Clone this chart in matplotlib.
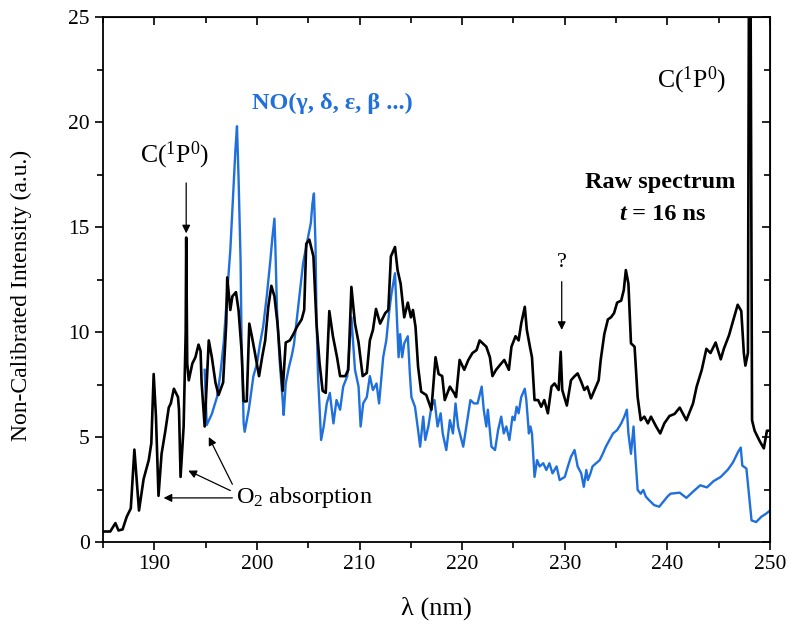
import matplotlib
matplotlib.use('Agg')
import matplotlib.pyplot as plt
from matplotlib.ticker import MultipleLocator

# Times-like serif font
plt.rcParams['font.family'] = ['Liberation Serif', 'DejaVu Serif']
plt.rcParams['mathtext.fontset'] = 'custom'
plt.rcParams['mathtext.rm'] = 'Liberation Serif'
plt.rcParams['mathtext.it'] = 'Liberation Serif:italic'
plt.rcParams['mathtext.bf'] = 'Liberation Serif:bold'

# raw spectrum (black)
wl_raw = [185.0, 185.7, 186.2, 186.5, 186.9, 187.3, 187.7, 188.05, 188.5, 188.95,
          189.45, 189.7, 189.93, 190.15, 190.4, 190.7, 191.07, 191.4, 191.6, 191.9,
          192.3, 192.4, 192.55, 192.85, 193.05, 193.1, 193.2, 193.35, 193.7, 194.0,
          194.3, 194.5, 194.6, 194.9, 195.3, 195.6, 195.95, 196.25, 196.7, 197.0,
          197.1, 197.4, 197.6, 197.95, 198.2, 198.5, 198.7, 199.0, 199.25, 199.5,
          199.8, 200.2, 200.5, 200.8, 201.1, 201.4, 201.7, 202.0, 202.5, 202.8,
          203.2, 203.55, 203.9, 204.35, 204.6, 204.8, 205.1, 205.5, 205.8, 206.1,
          206.4, 206.7, 207.05, 207.4, 207.8, 208.1, 208.6, 208.9, 209.2, 209.55,
          209.9, 210.3, 210.7, 211.0, 211.3, 211.6, 212.0, 212.5, 212.8, 213.05,
          213.45, 213.7, 214.0, 214.35, 214.7, 215.0, 215.2, 215.45, 215.7, 216.0,
          216.5, 217.0, 217.4, 217.7, 218.05, 218.3, 218.8, 219.2, 219.4, 219.75,
          220.2, 220.6, 221.0, 221.4, 221.7, 222.0, 222.35, 222.7, 222.95, 223.3,
          223.8, 224.1, 224.55, 224.8, 225.2, 225.5, 225.75, 226.1, 226.3, 226.6,
          226.8, 227.05, 227.4, 227.7, 228.0, 228.35, 228.7, 229.0, 229.4, 229.6,
          229.75, 230.2, 230.6, 230.9, 231.25, 231.6, 231.9, 232.2, 232.55, 232.9,
          233.3, 233.5, 233.85, 234.2, 234.5, 234.8, 235.1, 235.5, 235.75, 235.95,
          236.2, 236.45, 236.8, 237.1, 237.4, 237.75, 238.1, 238.4, 238.9, 239.3,
          239.7, 240.2, 240.7, 241.2, 241.85, 242.5, 242.85, 243.35, 243.8, 244.2,
          244.7, 245.2, 245.5, 246.0, 246.5, 246.85, 247.2, 247.45, 247.6, 247.85,
          247.95, 248.1, 248.25, 248.5, 249.0, 249.4, 249.7, 250.0]
int_raw = [0.5, 0.5, 0.9, 0.55, 0.6, 1.2, 1.6, 4.4, 1.5, 3.0,
           3.9, 4.7, 8.0, 6.0, 2.2, 4.2, 5.3, 6.4, 6.6, 7.3,
           6.9, 6.3, 3.1, 5.5, 10.0, 14.5, 8.5, 7.7, 8.5, 8.8,
           9.4, 9.1, 7.6, 5.5, 9.6, 8.8, 7.6, 7.0, 7.6, 10.4,
           12.6, 11.05, 11.7, 11.9, 11.05, 9.1, 6.7, 6.7, 10.4, 9.8,
           9.0, 7.9, 8.8, 9.6, 11.2, 12.2, 11.7, 10.4, 7.2, 9.5,
           9.6, 9.9, 10.25, 10.6, 11.05, 14.2, 14.4, 13.6, 10.4, 8.5,
           7.2, 7.1, 11.0, 9.8, 8.8, 7.9, 7.9, 8.2, 12.15, 10.4,
           9.5, 7.9, 8.05, 9.6, 10.1, 11.1, 10.4, 10.9, 11.05, 13.6,
           14.05, 12.95, 12.3, 10.7, 11.4, 10.7, 11.05, 10.25, 8.35, 7.16,
           7.0, 6.3, 8.8, 8.0, 7.9, 6.76, 7.4, 7.1, 6.9, 8.67,
           8.2, 8.67, 9.0, 9.14, 9.6, 9.46, 9.3, 8.8, 7.9, 8.2,
           8.5, 8.67, 8.2, 9.3, 9.8, 9.6, 10.4, 11.2, 10.1, 9.3,
           8.8, 6.76, 6.76, 6.44, 6.76, 6.13, 7.4, 7.55, 7.24, 9.06,
           7.24, 6.5, 7.7, 7.87, 8.03, 7.63, 7.24, 7.4, 6.84, 7.24,
           7.7, 8.67, 9.9, 10.6, 10.7, 10.9, 11.4, 11.5, 12.0, 12.95,
           12.3, 9.46, 9.3, 6.9, 5.8, 5.97, 5.65, 5.97, 5.5, 5.17,
           5.65, 6.0, 6.1, 6.4, 5.8, 6.6, 7.4, 8.2, 9.2, 9.0,
           9.5, 8.7, 9.2, 9.84, 10.7, 11.3, 11.0, 9.0, 8.4, 9.0,
           27.0, 27.0, 5.8, 5.3, 4.8, 4.46, 5.3, 5.3]

# NO bands (blue)
wl_no = [194.9, 195.1, 195.6, 196.1, 196.4, 196.75, 197.07, 197.4, 197.7, 197.9,
         198.05, 198.2, 198.4, 198.5, 198.7, 198.8, 199.2, 199.65, 200.0, 200.3,
         200.6, 200.95, 201.3, 201.5, 201.7, 201.8, 201.95, 202.2, 202.5, 202.6,
         202.8, 203.1, 203.4, 203.6, 203.9, 204.2, 204.5, 204.85, 205.25, 205.4,
         205.55, 205.7, 205.8, 205.95, 206.25, 206.5, 206.8, 207.1, 207.45, 207.75,
         208.1, 208.4, 208.8, 209.2, 209.55, 209.9, 210.1, 210.35, 210.7, 211.0,
         211.3, 211.65, 211.9, 212.3, 212.6, 212.9, 213.1, 213.45, 213.8, 213.95,
         214.15, 214.35, 214.7, 214.9, 215.05, 215.4, 215.7, 215.9, 216.2, 216.4,
         216.7, 217.0, 217.3, 217.6, 217.9, 218.1, 218.45, 218.8, 219.1, 219.35,
         219.6, 220.1, 220.4, 220.8, 221.15, 221.5, 221.9, 222.1, 222.35, 222.5,
         222.85, 223.2, 223.5, 223.8, 224.05, 224.3, 224.6, 224.9, 225.1, 225.3,
         225.5, 225.75, 226.1, 226.25, 226.5, 226.65, 226.8, 227.05, 227.3, 227.55,
         227.9, 228.2, 228.5, 228.8, 229.2, 229.5, 230.0, 230.3, 230.6, 230.95,
         231.25, 231.6, 231.85, 232.1, 232.25, 232.5, 232.7, 233.05, 233.4, 233.7,
         234.0, 234.35, 234.7, 235.1, 235.5, 235.8, 236.05, 236.2, 236.45, 236.7,
         236.9, 237.1, 237.4, 237.65, 237.9, 238.2, 238.7, 239.2, 239.6, 240.0,
         240.3, 241.2, 241.85, 242.5, 243.2, 243.85, 244.5, 245.2, 245.9, 246.4,
         246.9, 247.15, 247.3, 247.7, 248.0, 248.2, 248.65, 249.15, 249.65, 250.0]
int_no = [8.2, 5.57, 6.1, 6.9, 7.9, 9.46, 11.7, 13.9, 16.8, 18.7,
          19.8, 17.4, 13.4, 9.46, 5.65, 5.25, 6.3, 7.9, 8.5, 9.46,
          10.25, 11.7, 13.4, 14.5, 15.4, 13.9, 11.05, 8.67, 6.76, 6.05,
          7.55, 8.3, 8.9, 9.4, 10.7, 12.0, 13.3, 14.2, 15.2, 16.1,
          16.6, 14.2, 10.7, 7.9, 4.86, 5.5, 6.6, 7.1, 5.65, 6.76,
          6.3, 7.4, 7.9, 10.7, 8.2, 7.4, 5.5, 6.6, 6.9, 7.9,
          7.24, 7.55, 6.6, 8.8, 9.6, 11.05, 11.8, 12.8, 8.8, 9.9,
          8.8, 9.46, 9.8, 8.0, 6.9, 6.44, 5.33, 4.54, 5.97, 4.86,
          5.5, 6.44, 6.76, 5.5, 6.13, 5.17, 4.38, 5.8, 5.17, 6.6,
          5.5, 4.54, 5.5, 6.76, 6.6, 6.6, 7.4, 6.3, 5.5, 6.3,
          4.54, 4.38, 5.33, 5.97, 5.17, 5.5, 4.86, 5.97, 5.8, 6.44,
          6.13, 6.9, 7.3, 6.76, 5.17, 5.5, 5.17, 3.1, 3.9, 3.6,
          3.75, 3.43, 3.75, 3.27, 3.6, 2.95, 3.1, 3.6, 4.06, 4.38,
          3.6, 3.27, 2.63, 3.43, 2.95, 3.27, 3.6, 3.75, 3.9, 4.2,
          4.54, 4.86, 5.17, 5.33, 5.65, 5.97, 6.3, 5.17, 4.2, 5.5,
          3.9, 2.48, 2.3, 2.48, 2.16, 2.0, 1.76, 1.68, 1.92, 2.16,
          2.3, 2.35, 2.1, 2.4, 2.7, 2.6, 2.9, 3.1, 3.45, 3.8,
          4.3, 4.5, 3.64, 3.5, 2.0, 1.03, 0.95, 1.2, 1.36, 1.5]

blue = '#1f6fdd'

fig = plt.figure(figsize=(7.93, 6.32), dpi=100)
ax = fig.add_axes([0.130, 0.1424, 0.841, 0.8306])

ax.plot(wl_no, int_no, color=blue, lw=1.7)
ax.plot(wl_raw, int_raw, color='black', lw=1.9)

ax.set_xlim(185, 250)
ax.set_ylim(0, 25)
ax.xaxis.set_major_locator(MultipleLocator(10))
ax.xaxis.set_minor_locator(MultipleLocator(5))
ax.yaxis.set_major_locator(MultipleLocator(5))
ax.yaxis.set_minor_locator(MultipleLocator(2.5))
ax.tick_params(which='both', direction='out', width=1.2, labelsize=15.5)
ax.tick_params(which='major', length=6)
ax.tick_params(which='minor', length=4)
for s in ax.spines.values():
    s.set_linewidth(1.3)

# top / right ticks point inward, no labels
top = ax.secondary_xaxis('top')
top.xaxis.set_major_locator(MultipleLocator(10))
top.xaxis.set_minor_locator(MultipleLocator(5))
top.tick_params(which='both', direction='in', width=1.2, labeltop=False)
top.tick_params(which='major', length=6)
top.tick_params(which='minor', length=4)
right = ax.secondary_yaxis('right')
right.yaxis.set_major_locator(MultipleLocator(5))
right.yaxis.set_minor_locator(MultipleLocator(2.5))
right.tick_params(which='both', direction='in', width=1.2, labelright=False)
right.tick_params(which='major', length=6)
right.tick_params(which='minor', length=4)

ax.set_xlabel('λ (nm)', fontsize=19, labelpad=16)
ax.set_ylabel('Non-Calibrated Intensity (a.u.)', fontsize=17)
ax.yaxis.set_label_coords(-0.107, 0.47)

# annotations
arr = dict(arrowstyle='-|>', lw=0.9, color='black', mutation_scale=12, shrinkA=0, shrinkB=0)
ax.text(192.0, 18.4, r'C($^1$P$^0$)', fontsize=18.5, ha='center', va='center')
ax.annotate('', xy=(193.1, 14.7), xytext=(193.1, 17.1), arrowprops=arr)
ax.text(242.4, 22.0, r'C($^1$P$^0$)', fontsize=18.5, ha='center', va='center')
ax.text(207.3, 20.9, 'NO(γ, δ, ε, β ...)', fontsize=17.5, fontweight='bold',
        color=blue, ha='center', va='center')
ax.text(239.25, 17.1, 'Raw spectrum', fontsize=17.5, fontweight='bold', ha='center', va='center')
ax.text(236.0, 15.6, 't', fontsize=17.5, fontweight='bold', fontstyle='italic',
        ha='right', va='center')
ax.text(236.0, 15.6, ' = 16 ns', fontsize=17.5, fontweight='bold', ha='left', va='center')
ax.text(229.7, 13.3, '?', fontsize=16, ha='center', va='center')
ax.annotate('', xy=(229.7, 10.1), xytext=(229.7, 12.4), arrowprops=arr)

ax.text(198.0, 2.14, r'O$_2$ absorption', fontsize=17.5, ha='left', va='center')
ax.annotate('', xy=(190.9, 2.1), xytext=(197.6, 2.1), arrowprops=arr)
ax.annotate('', xy=(193.3, 3.4), xytext=(197.4, 2.45), arrowprops=arr)
ax.annotate('', xy=(195.3, 5.0), xytext=(197.6, 2.75), arrowprops=arr)

fig.savefig('out.png', dpi=100)
